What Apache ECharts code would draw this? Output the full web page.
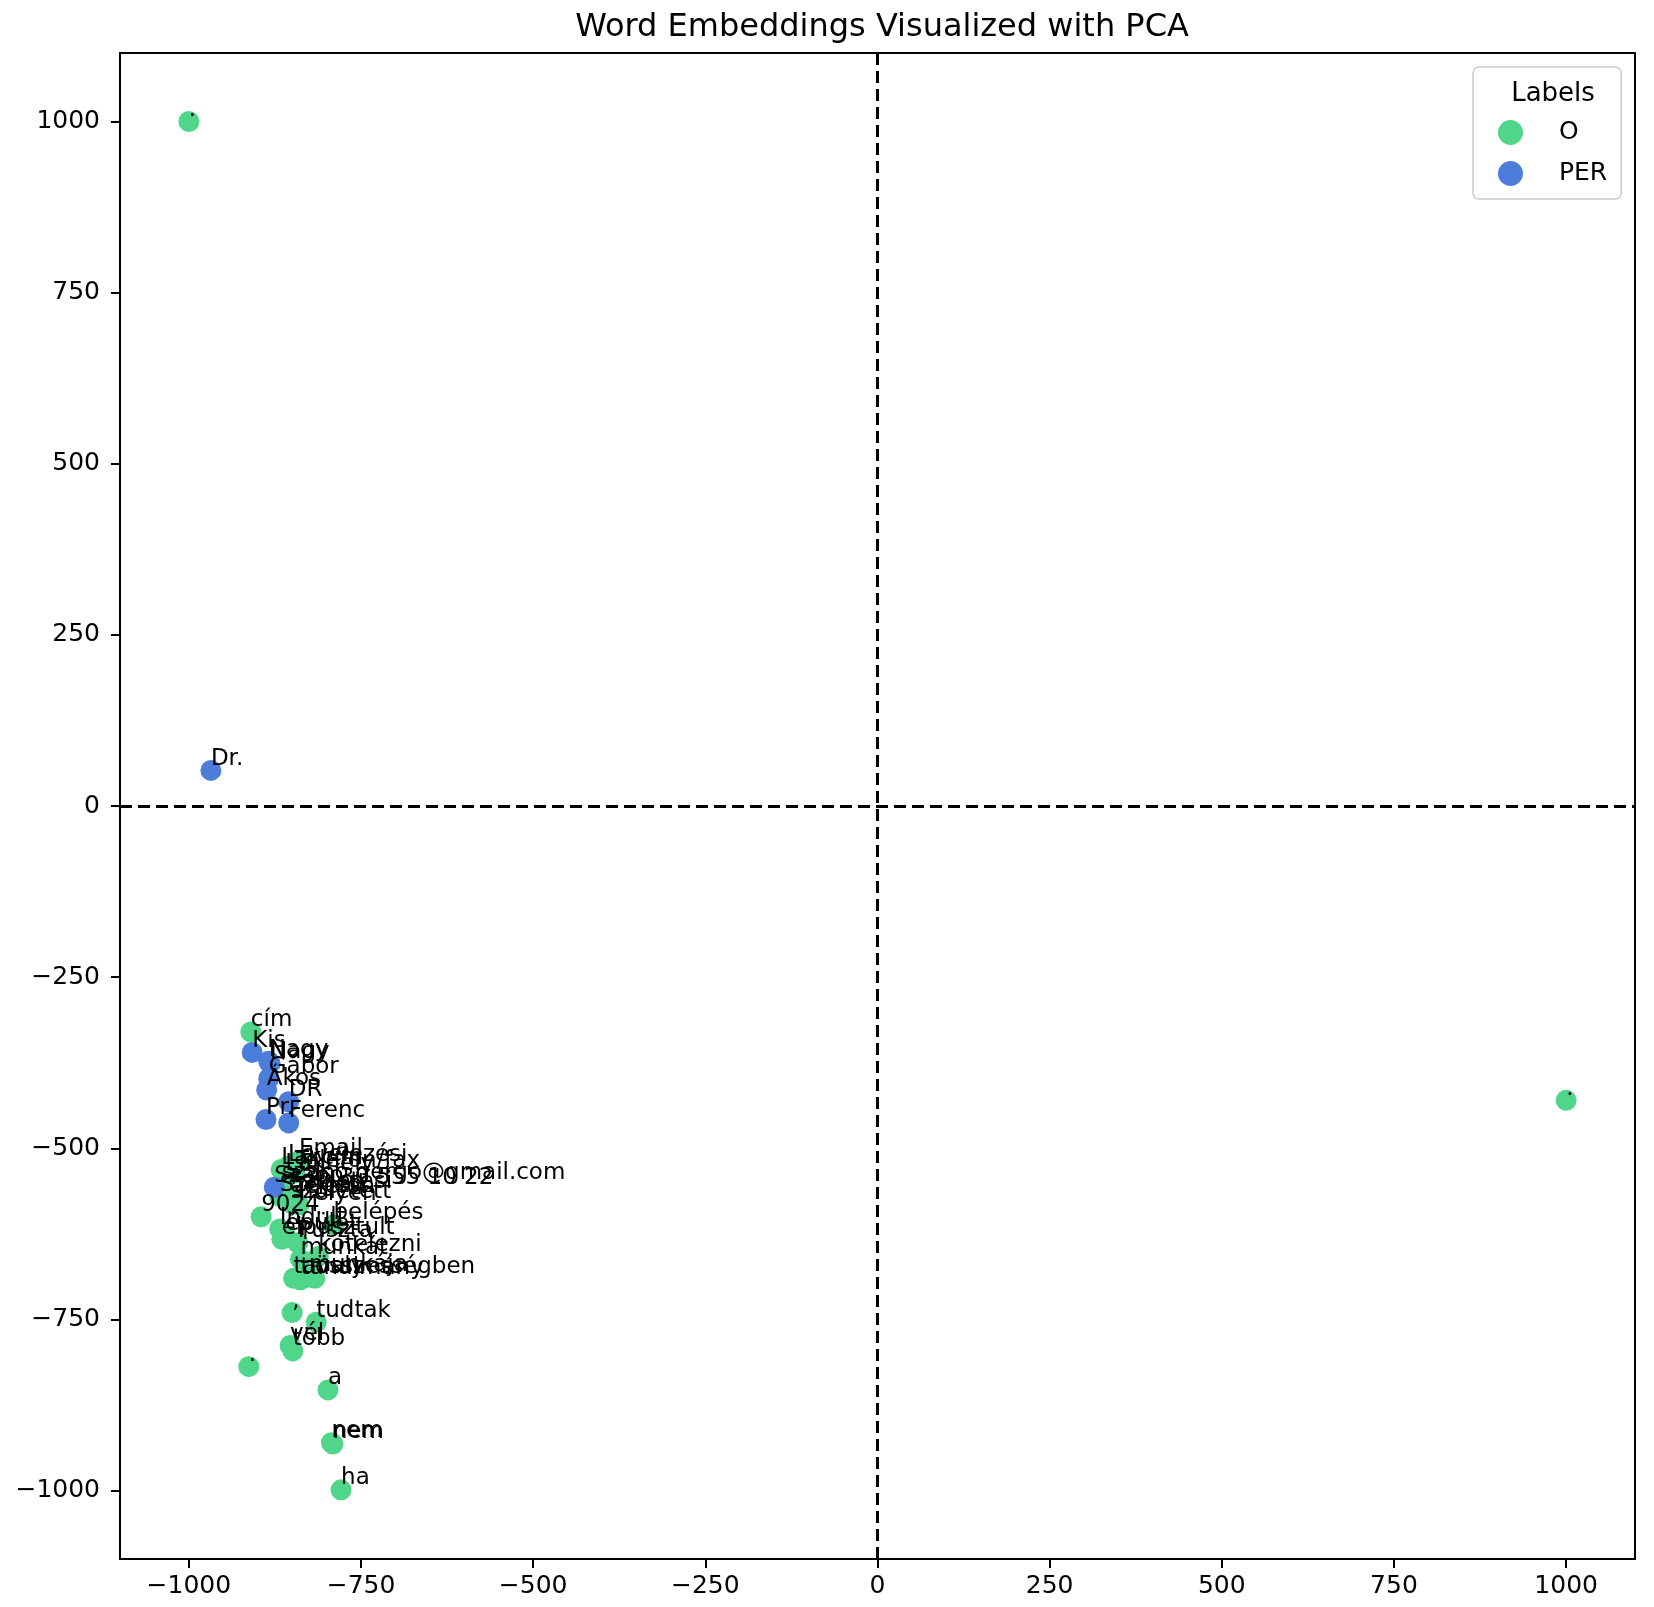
<!DOCTYPE html>
<html>
<head>
<meta charset="UTF-8">
<title>Word Embeddings Visualized with PCA</title>
<script src="https://cdn.jsdelivr.net/npm/echarts@6/dist/echarts.min.js"></script>
<style>
  html, body { margin: 0; padding: 0; background: #fff; }
  #chart { width: 1654px; height: 1607px; }
</style>
</head>
<body>
<div id="chart"></div>
<script>
// words tagged O
var oWords = ['.', '.', 'cím', 'Email', 'Levelezési', 'Lakcím', 'Telefon/fax', 'Lakhely',
  'szabo.gergo@gmail.com', '+36 30 555 10 22', 'Születési', 'Szeged', 'Telefon', 'született',
  'helyen', '9024', 'belépés', 'Indult', 'épület', 'elpusztult', 'Puszta', 'munkát', 'kötelezni',
  'tavaly', 'tanulmány', 'munkája', 'összességben', ',', 'tudtak', 'vél', 'több', '.', 'a',
  'nem', 'nem', 'ha'];
var oX = [-1000, 1000, -910, -840, -856, -866, -846, -860,
  -865, -862, -855, -868, -848, -852,
  -840, -895, -790, -868, -860, -865, -842, -838, -812,
  -848, -838, -826, -817, -850, -815, -853, -849, -913, -798,
  -793, -791, -779];
var oY = [1000, -430, -330, -518, -526, -531, -536, -540,
  -553, -560, -566, -570, -574, -580,
  -583, -600, -612, -618, -628, -633, -638, -662, -658,
  -690, -692, -688, -690, -740, -754, -788, -796, -819, -853,
  -930, -932, -999];

// words tagged PER
var perWords = ['Dr.', 'Kis', 'Nagy', 'Nagy', 'Gábor', 'Ákos', 'DR', 'Pr.', 'Ferenc', 'Szabó'];
var perX = [-968, -908, -884, -882, -884, -887, -855, -888, -855, -876];
var perY = [52, -360, -373, -376, -398, -415, -432, -458, -463, -557];

var axisTicks = [-1000, -750, -500, -250, 0, 250, 500, 750, 1000];

function pts(words, xs, ys) {
  return words.map(function (w, i) { return [xs[i], ys[i], w]; });
}

var font = 'DejaVu Sans';
var myChart = echarts.init(document.getElementById('chart'));

var pointLabel = {
  show: true,
  position: ['50%', '50%'],
  align: 'left',
  verticalAlign: 'bottom',
  offset: [0, 4],
  fontFamily: font,
  fontSize: 23,
  color: '#000',
  formatter: function (p) { return p.data[2]; }
};

function minus(v) { return String(v).replace('-', '\u2212'); }

var option = {
  animation: false,
  backgroundColor: '#fff',
  title: [{
    text: 'Word Embeddings Visualized with PCA',
    left: 877, top: 7, textAlign: 'center',
    textStyle: { fontFamily: font, fontSize: 32, fontWeight: 'normal', color: '#000' }
  }, {
    text: 'Labels',
    left: 1548, top: 76, textAlign: 'center',
    textStyle: { fontFamily: font, fontSize: 26, fontWeight: 'normal', color: '#000' }
  }],
  legend: {
    orient: 'vertical',
    left: 1473, top: 67,
    padding: [53, 14, 13, 25],
    itemWidth: 25, itemHeight: 25, itemGap: 16,
    borderColor: '#cccccc', borderWidth: 1.5, borderRadius: 6,
    backgroundColor: '#fff',
    icon: 'circle',
    textStyle: { fontFamily: font, fontSize: 25, color: '#000', padding: [0, 0, 0, 31] },
    data: ['O', 'PER']
  },
  grid: {
    left: 120, right: 19, top: 53, bottom: 48,
    show: true, borderColor: '#000', borderWidth: 2
  },
  xAxis: {
    type: 'value', min: -1100, max: 1100,
    splitLine: { show: false },
    axisLine: { show: true, onZero: false, lineStyle: { color: '#000', width: 2 } },
    axisTick: { show: true, length: 9, customValues: axisTicks, lineStyle: { color: '#000', width: 2 } },
    axisLabel: {
      customValues: axisTicks, margin: 15,
      fontFamily: font, fontSize: 25, color: '#000',
      formatter: minus
    }
  },
  yAxis: {
    type: 'value', min: -1100, max: 1100,
    splitLine: { show: false },
    axisLine: { show: true, onZero: false, lineStyle: { color: '#000', width: 2 } },
    axisTick: { show: true, length: 9, customValues: axisTicks, lineStyle: { color: '#000', width: 2 } },
    axisLabel: {
      customValues: axisTicks, margin: 20,
      fontFamily: font, fontSize: 25, color: '#000',
      formatter: minus
    }
  },
  series: [{
    name: 'O',
    type: 'scatter',
    symbolSize: 21,
    itemStyle: { color: '#4fd68b', opacity: 1 },
    label: pointLabel,
    labelLayout: { hideOverlap: false },
    data: pts(oWords, oX, oY),
    markLine: {
      silent: true,
      symbol: 'none',
      label: { show: false },
      lineStyle: { color: '#000', width: 3, type: [12, 6] },
      data: [{ xAxis: 0 }, { yAxis: 0 }]
    }
  }, {
    name: 'PER',
    type: 'scatter',
    symbolSize: 21,
    itemStyle: { color: '#4d7ddb', opacity: 1 },
    label: pointLabel,
    labelLayout: { hideOverlap: false },
    data: pts(perWords, perX, perY)
  }]
};

myChart.setOption(option);
</script>
</body>
</html>
